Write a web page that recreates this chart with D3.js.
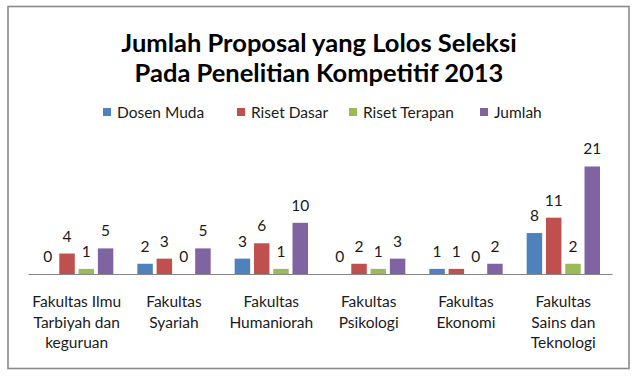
<!DOCTYPE html>
<html>
<head>
<meta charset="utf-8">
<script src="https://cdn.jsdelivr.net/npm/d3@7"></script>
<style>
  html, body { margin: 0; padding: 0; background: #fff; }
  svg { display: block; font-family: Lato, "Noto Sans", sans-serif; }
</style>
</head>
<body>
<svg id="chart" width="641" height="379"></svg>
<script>
const titleLines = ["Jumlah Proposal yang Lolos Seleksi", "Pada Penelitian Kompetitif 2013"];
const categories = [
  ["Fakultas Ilmu", "Tarbiyah dan", "keguruan"],
  ["Fakultas", "Syariah"],
  ["Fakultas", "Humaniorah"],
  ["Fakultas", "Psikologi"],
  ["Fakultas", "Ekonomi"],
  ["Fakultas", "Sains dan", "Teknologi"]
];
const seriesNames = ["Dosen Muda", "Riset Dasar", "Riset Terapan", "Jumlah"];
const dosenMuda   = [0, 2, 3, 0, 1, 8];
const risetDasar  = [4, 3, 6, 2, 1, 11];
const risetTerapan= [1, 0, 1, 1, 0, 2];
const jumlah      = [5, 5, 10, 3, 2, 21];
const colors = ["#4F81BD", "#C0504D", "#9BBB59", "#8064A2"];
const yMax = 25;

const seriesValues = [dosenMuda, risetDasar, risetTerapan, jumlah];
const catIds = categories.map((c, i) => i);

const svg = d3.select("#chart");

// frame
svg.append("rect")
  .attr("x", 8).attr("y", 6.5).attr("width", 621).attr("height", 362)
  .attr("fill", "#fff").attr("stroke", "#8a8a8a").attr("stroke-width", 1.6);

// title
svg.append("g").selectAll("text").data(titleLines).join("text")
  .attr("x", 319).attr("y", (d, i) => 52 + i * 30)
  .attr("text-anchor", "middle")
  .attr("font-size", 25.5).attr("font-weight", "bold").attr("fill", "#000")
  .text(d => d);

// scales
const plotLeft = 28, plotRight = 612, baseY = 274, topY = 146;
const x0 = d3.scaleBand().domain(catIds).range([plotLeft, plotRight]).padding(0);
const gap = 12;
const x1 = d3.scaleBand().domain(d3.range(seriesNames.length))
  .range([gap, x0.bandwidth() - gap]).paddingInner(0.197).paddingOuter(0);
const y = d3.scaleLinear().domain([0, yMax]).range([baseY, topY]);

// bars
const groups = svg.append("g").selectAll("g").data(catIds).join("g")
  .attr("transform", d => `translate(${x0(d)},0)`);

groups.selectAll("rect").data(ci => seriesValues.map((vals, si) => ({si, v: vals[ci]})))
  .join("rect")
  .attr("x", d => x1(d.si))
  .attr("width", x1.bandwidth())
  .attr("y", d => y(d.v))
  .attr("height", d => baseY - y(d.v))
  .attr("fill", d => colors[d.si]);

groups.selectAll("text").data(ci => seriesValues.map((vals, si) => ({si, v: vals[ci]})))
  .join("text")
  .attr("x", d => x1(d.si) + x1.bandwidth() / 2)
  .attr("y", d => y(d.v) - 12)
  .attr("text-anchor", "middle")
  .attr("font-size", 15.5).attr("fill", "#1a1a1a")
  .text(d => d.v);

// axis line
const xAxis = d3.axisBottom(x0).tickSize(0).tickFormat("");
const axG = svg.append("g").attr("transform", `translate(0,${baseY})`).call(xAxis);
axG.select(".domain").attr("stroke", "#868686").attr("stroke-width", 1);

// category labels
const catG = svg.append("g").selectAll("text").data(catIds).join("text")
  .attr("x", d => x0(d) + x0.bandwidth() / 2)
  .attr("text-anchor", "middle")
  .attr("font-size", 15.5).attr("fill", "#1a1a1a");
catG.selectAll("tspan").data(d => categories[d]).join("tspan")
  .attr("x", function() { return d3.select(this.parentNode).attr("x"); })
  .attr("y", (d, i) => 307 + i * 20.5)
  .text(d => d);

// legend
const legendX = [103, 237, 349, 480];
const lg = svg.append("g").selectAll("g").data(seriesNames).join("g")
  .attr("transform", (d, i) => `translate(${legendX[i]},112)`);
lg.append("rect").attr("x", 0).attr("y", -4).attr("width", 8).attr("height", 8)
  .attr("fill", (d, i) => colors[i]);
lg.append("text").attr("x", 14).attr("y", 5.5)
  .attr("font-size", 15.5).attr("fill", "#1a1a1a")
  .text(d => d);
</script>
</body>
</html>
